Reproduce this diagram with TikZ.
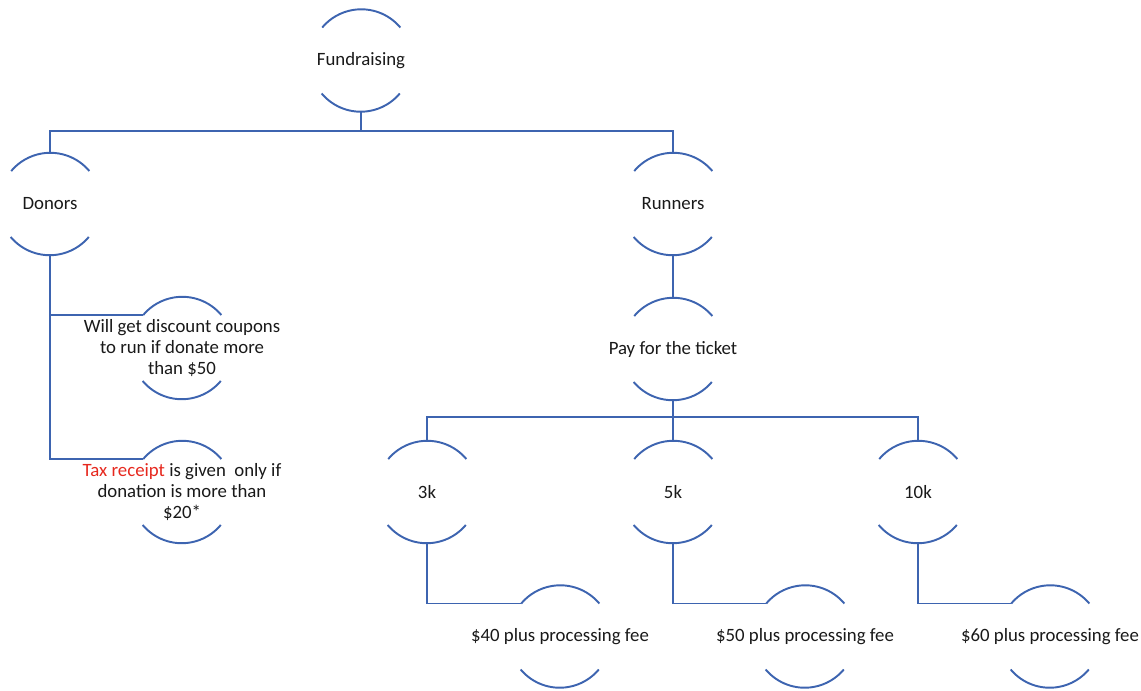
\documentclass[tikz,border=0pt]{standalone}
\usepackage{fontspec}
\setmainfont{Carlito}
\definecolor{lineblue}{RGB}{61,100,176}
\definecolor{taxred}{RGB}{230,40,30}
\begin{document}
\begin{tikzpicture}[x=0.02cm,y=-0.02cm,
  hnode/.style={circle,minimum size=2.04cm,inner sep=0pt,
    label={[align=center,font=\fontsize{10.7}{11.8}\selectfont,text=black!90]center:#1}},
  conn/.style={draw=lineblue,line width=1.1pt},
  arcline/.style={draw=lineblue,line width=1.1pt}]
\useasboundingbox (0,0) rectangle (1141,690);
\node[hnode={Fundraising}] (fund) at (361,60.5) {};
\node[hnode={Donors}] (donors) at (50,204) {};
\node[hnode={Runners}] (runners) at (673,204) {};
\node[hnode={Pay for the ticket}] (pay) at (673,349) {};
\node[hnode={Will get discount coupons\\to run if donate more\\than \$50}] (coupon) at (182,348) {};
\node[hnode={\textcolor{taxred}{Tax receipt} is given\ \ only if\\donation is more than\\\$20*}] (tax) at (182,492) {};
\node[hnode={3k}] (k3) at (427,492) {};
\node[hnode={5k}] (k5) at (673,492) {};
\node[hnode={10k}] (k10) at (918,492) {};
\node[hnode={\$40 plus processing fee}] (f40) at (560,636.5) {};
\node[hnode={\$50 plus processing fee}] (f50) at (805,636.5) {};
\node[hnode={\$60 plus processing fee}] (f60) at (1050,636.5) {};
% arcs
\foreach \n in {fund,donors,runners,pay,coupon,tax,k3,k5,k10,f40,f50,f60}{
  \draw[arcline] (\n.40) arc[start angle=40,end angle=140,radius=1.02cm];
  \draw[arcline] (\n.220) arc[start angle=220,end angle=320,radius=1.02cm];
}
% connectors
\coordinate (b1) at (361,131);
\draw[conn] (fund.south) -- (b1);
\draw[conn] (donors.north) |- (b1) -| (runners.north);
\draw[conn] (donors.south) |- (coupon.140);
\draw[conn] (donors.south) |- (tax.140);
\draw[conn] (runners.south) -- (pay.north);
\coordinate (b2) at (673,417);
\draw[conn] (pay.south) -- (b2);
\draw[conn] (k3.north) |- (b2) -| (k10.north);
\draw[conn] (b2) -- (k5.north);
\draw[conn] (k3.south) |- (f40.140);
\draw[conn] (k5.south) |- (f50.140);
\draw[conn] (k10.south) |- (f60.140);
\end{tikzpicture}
\end{document}
